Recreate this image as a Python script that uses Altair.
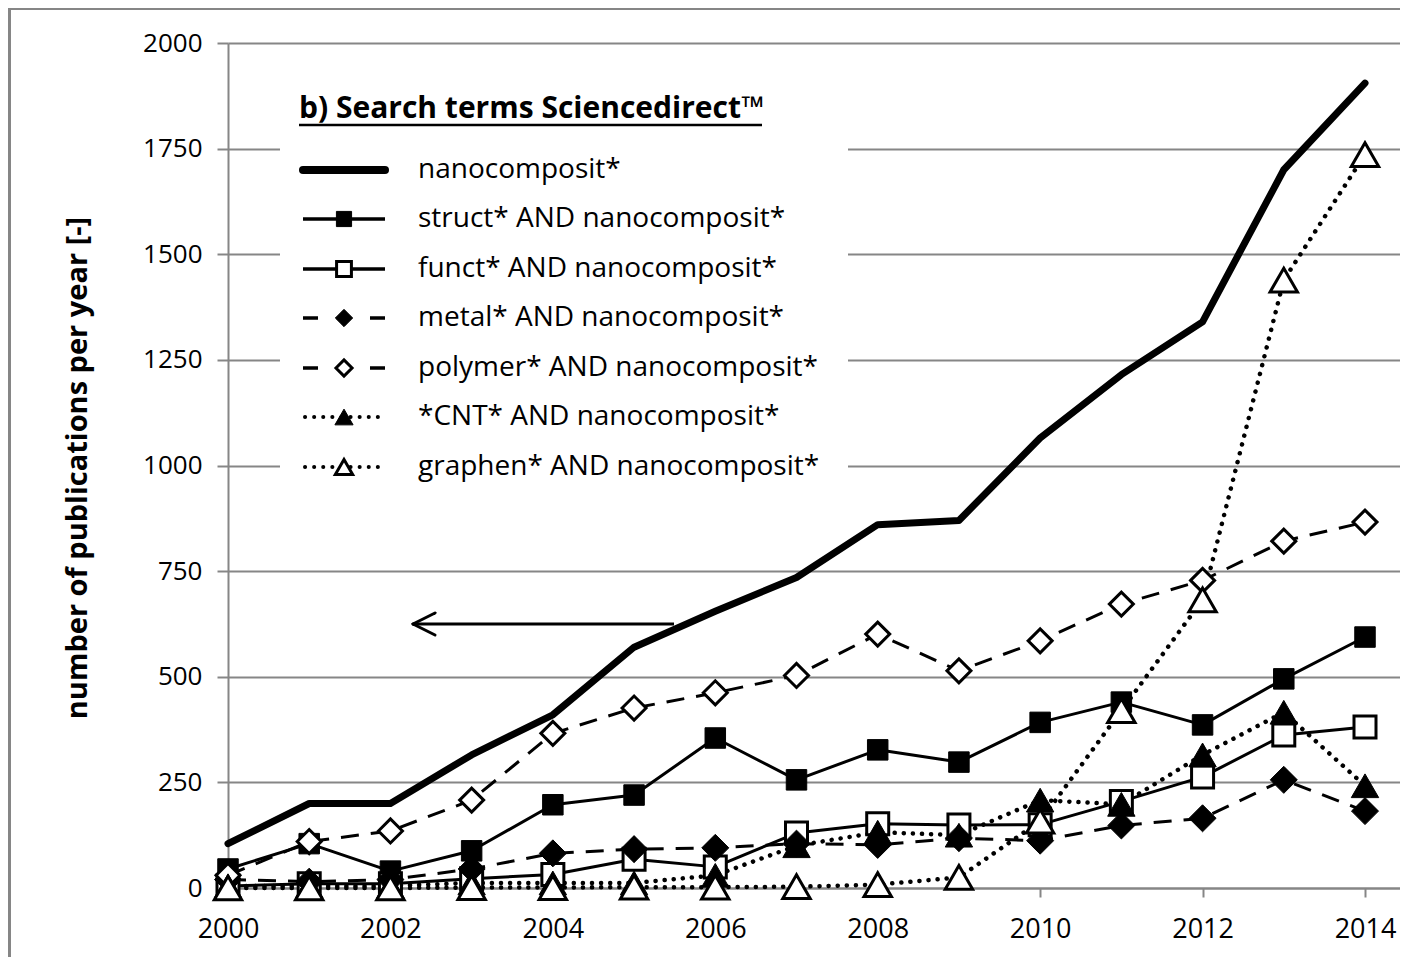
import altair as alt
import pandas as pd

# ---------------- data ----------------
years = list(range(2000, 2015))
nanocomposit = [105, 200, 200, 315, 410, 570, 655, 735, 860, 870, 1065, 1215, 1340, 1700, 1905]
struct = [45, 105, 40, 88, 197, 220, 355, 256, 327, 298, 392, 440, 386, 495, 594]
funct = [5, 10, 10, 22, 32, 68, 50, 130, 152, 149, 150, 205, 263, 362, 381]
metal = [20, 15, 20, 45, 82, 92, 95, 105, 102, 118, 112, 148, 165, 256, 182]
polymer = [30, 110, 135, 208, 366, 426, 462, 503, 601, 514, 585, 672, 728, 821, 866]
cnt = [5, 5, 5, 12, 12, 12, 30, 100, 132, 125, 208, 198, 315, 416, 242]
graphene = [0, 0, 0, 1, 1, 2, 2, 3, 8, 25, 158, 420, 682, 1439, 1736]

series_names = [
    "nanocomposit*",
    "struct* AND nanocomposit*",
    "funct* AND nanocomposit*",
    "metal* AND nanocomposit*",
    "polymer* AND nanocomposit*",
    "*CNT* AND nanocomposit*",
    "graphen* AND nanocomposit*",
]
series_values = [nanocomposit, struct, funct, metal, polymer, cnt, graphene]
legend_title = "b) Search terms Sciencedirect\u2122"
y_title = "number of publications per year [-]"
x_ticks = [2000, 2002, 2004, 2006, 2008, 2010, 2012, 2014]
y_ticks = [0, 250, 500, 750, 1000, 1250, 1500, 1750, 2000]

# ---------------- styles ----------------
FONT = "Open Sans"
GRAY = "#868686"
DASH = [18, 12]
DOT = [0.1, 9]
styles = [
    dict(width=7, dash=None, shape=None, filled=True, size=0, lsize=0, lwidth=8),
    dict(width=3, dash=None, shape="square", filled=True, size=420, lsize=230, lwidth=3.5),
    dict(width=3, dash=None, shape="square", filled=False, size=484, lsize=220, lwidth=3.5),
    dict(width=3, dash=DASH, shape="diamond", filled=True, size=730, lsize=300, lwidth=3.5),
    dict(width=3, dash=DASH, shape="diamond", filled=False, size=576, lsize=260, lwidth=3.5),
    dict(width=4.5, dash=DOT, shape="triangle-up", filled=True, size=750, lsize=330, lwidth=4),
    dict(width=4.5, dash=DOT, shape="triangle-up", filled=False, size=750, lsize=300, lwidth=4),
]

W, H = 1172, 845
xscale = alt.Scale(domain=[2000, 2000 + W / (1137 / 14)], nice=False, zero=False)
yscale = alt.Scale(domain=[0, 2000], nice=False)

x_axis = alt.Axis(values=x_ticks, format="d", grid=False, domainColor=GRAY, domainWidth=2,
                  tickColor=GRAY, tickWidth=2, tickSize=9, labelFont=FONT, labelFontSize=27,
                  labelColor="black", labelPadding=19, title=None, labelFlush=False)
y_axis = alt.Axis(values=y_ticks, format="d", grid=True, gridColor=GRAY, gridWidth=2,
                  domainColor=GRAY, domainWidth=2, tickColor=GRAY, tickWidth=2, tickSize=11,
                  labelFont=FONT, labelFontSize=26, labelColor="black", labelPadding=15,
                  title=y_title, titleFont=FONT, titleFontSize=29, titleFontWeight="bold",
                  titleColor="black", titleX=-151, titleY=H / 2 + 2, titleAngle=-90,
                  titleAlign="center", titleBaseline="middle", labelFlush=False)

layers = []
lines = []
points = []
for i, (name, vals, st) in enumerate(zip(series_names, series_values, styles)):
    df = pd.DataFrame({"year": years, "value": vals, "series": name})
    kw = dict(color="black", strokeWidth=st["width"], strokeJoin="round")
    if st["dash"] is not None:
        kw["strokeDash"] = st["dash"]
        if st["dash"] is DOT:
            kw["strokeCap"] = "round"
    if i == 0:
        kw["strokeCap"] = "round"
    enc = dict(x=alt.X("year:Q", scale=xscale, axis=x_axis),
               y=alt.Y("value:Q", scale=yscale, axis=y_axis))
    lines.append(alt.Chart(df).mark_line(**kw).encode(**enc))
    if st["shape"]:
        pk = dict(shape=st["shape"], size=st["size"], filled=True, opacity=1,
                  fill="black" if st["filled"] else "white",
                  stroke="black", strokeWidth=1 if st["filled"] else 3)
        points.append(alt.Chart(df).mark_point(**pk).encode(**enc))

# white legend box (hides gridlines behind the legend)
box = pd.DataFrame({"a": [0]})
layers.append(alt.Chart(box).mark_rect(fill="white", stroke=None).encode(
    x=alt.value(52), x2=alt.value(620), y=alt.value(38), y2=alt.value(452)))

layers += lines + points

# ---------------- legend (inside plot) ----------------
row_y = [127, 176, 226, 275, 325, 374, 424]
leg_x0, leg_x1, leg_xm, leg_tx = 75, 157, 116, 190
for name, st, ry in zip(series_names, styles, row_y):
    one = pd.DataFrame({"label": [name]})
    rk = dict(color="black", strokeWidth=st["lwidth"])
    if st["dash"] is not None:
        if st["dash"] is DOT:
            rk["strokeDash"] = [0.1, 9]
            rk["strokeCap"] = "round"
            rk["strokeDashOffset"] = -2
        else:
            rk["strokeDash"] = [15, 52]
    else:
        rk["strokeCap"] = "round" if st["shape"] is None else "butt"
    layers.append(alt.Chart(one).mark_rule(**rk).encode(
        x=alt.value(leg_x0), x2=alt.value(leg_x1), y=alt.value(ry)))
    if st["shape"]:
        layers.append(alt.Chart(one).mark_point(
            shape=st["shape"], size=st["lsize"], filled=True, opacity=1,
            fill="black" if st["filled"] else "white", stroke="black",
            strokeWidth=1 if st["filled"] else 3).encode(x=alt.value(leg_xm), y=alt.value(ry)))
    layers.append(alt.Chart(one).mark_text(
        font=FONT, fontSize=28, align="left", baseline="middle", color="black").encode(
        x=alt.value(leg_tx), y=alt.value(ry), text="label:N"))

title_df = pd.DataFrame({"label": [legend_title]})
layers.append(alt.Chart(title_df).mark_text(
    font=FONT, fontSize=30, fontWeight="bold", align="left", baseline="middle",
    color="black").encode(x=alt.value(71), y=alt.value(66), text="label:N"))
layers.append(alt.Chart(title_df).mark_rule(color="black", strokeWidth=2.5).encode(
    x=alt.value(71), x2=alt.value(534), y=alt.value(82)))

# ---------------- arrow annotation ----------------
arrow = pd.DataFrame({"a": [0]})
layers.append(alt.Chart(arrow).mark_rule(color="black", strokeWidth=3).encode(
    x=alt.value(185), x2=alt.value(446), y=alt.value(581)))
layers.append(alt.Chart(arrow).mark_rule(color="black", strokeWidth=3, strokeCap="round").encode(
    x=alt.value(185), x2=alt.value(207), y=alt.value(581), y2=alt.value(570)))
layers.append(alt.Chart(arrow).mark_rule(color="black", strokeWidth=3, strokeCap="round").encode(
    x=alt.value(185), x2=alt.value(207), y=alt.value(581), y2=alt.value(592)))

# ---------------- outer frame ----------------
layers.append(alt.Chart(arrow).mark_rect(fillOpacity=0, stroke=GRAY, strokeWidth=3).encode(
    x=alt.value(-218.5), x2=alt.value(1300), y=alt.value(-34.5), y2=alt.value(1000)))

chart = alt.layer(*layers).properties(
    width=W, height=H,
    autosize=alt.AutoSizeParams(type="none"),
    padding={"left": 220, "top": 35, "right": 0, "bottom": 69},
    background="white",
).configure_view(stroke=None)

chart.save("out.html", embed_options={"renderer": "svg", "actions": False})
